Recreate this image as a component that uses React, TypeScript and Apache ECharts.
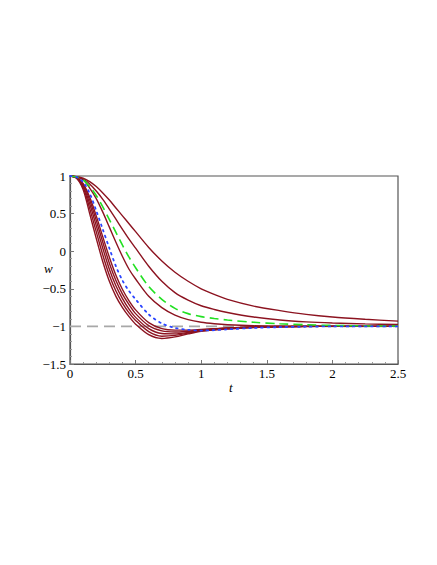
import React, { useEffect, useRef } from "react";
import * as echarts from "echarts";

const T = [0, 0.05, 0.1, 0.15, 0.2, 0.25, 0.3, 0.35, 0.4, 0.45, 0.5, 0.6, 0.7, 0.8, 0.9, 1.0, 1.1, 1.2, 1.4, 1.6, 1.8, 2.0, 2.25, 2.5];

const wA = [1, 0.99, 0.97, 0.925, 0.86, 0.775, 0.68, 0.575, 0.47, 0.365, 0.26, 0.05, -0.13, -0.28, -0.4, -0.5, -0.575, -0.64, -0.73, -0.79, -0.84, -0.875, -0.905, -0.93];
const wB = [1, 0.99, 0.96, 0.895, 0.8, 0.69, 0.56, 0.425, 0.29, 0.16, 0.04, -0.2, -0.4, -0.55, -0.65, -0.725, -0.775, -0.815, -0.875, -0.915, -0.94, -0.955, -0.967, -0.975];
const wC = [1, 0.986, 0.95, 0.84, 0.7, 0.52, 0.32, 0.12, -0.07, -0.24, -0.37, -0.6, -0.75, -0.85, -0.91, -0.945, -0.965, -0.978, -0.992, -0.998, -1, -1, -1, -1];
const wD = [1, 0.982, 0.9, 0.72, 0.47, 0.19, -0.08, -0.32, -0.51, -0.66, -0.78, -0.95, -1.03, -1.05, -1.05, -1.04, -1.03, -1.02, -1.006, -1.0, -1, -1, -1, -1];
const wE = [1, 0.98, 0.89, 0.68, 0.41, 0.12, -0.16, -0.39, -0.57, -0.71, -0.83, -0.99, -1.06, -1.075, -1.065, -1.05, -1.035, -1.022, -1.008, -1.002, -1, -1, -1, -1];
const wF = [1, 0.978, 0.87, 0.63, 0.34, 0.04, -0.24, -0.46, -0.63, -0.77, -0.88, -1.03, -1.095, -1.1, -1.08, -1.055, -1.038, -1.025, -1.01, -1.003, -1, -1, -1, -1];
const wG = [1, 0.975, 0.85, 0.57, 0.26, -0.05, -0.32, -0.53, -0.69, -0.82, -0.92, -1.07, -1.13, -1.12, -1.09, -1.06, -1.042, -1.03, -1.012, -1.004, -1, -1, -1, -1];
const wH = [1, 0.97, 0.82, 0.5, 0.17, -0.14, -0.4, -0.6, -0.75, -0.87, -0.97, -1.11, -1.16, -1.14, -1.1, -1.065, -1.047, -1.035, -1.015, -1.005, -1.001, -1, -1, -1];
const wGreen = [1, 0.987, 0.95, 0.86, 0.74, 0.59, 0.42, 0.25, 0.08, -0.08, -0.22, -0.47, -0.64, -0.76, -0.83, -0.87, -0.895, -0.915, -0.945, -0.965, -0.978, -0.987, -0.993, -0.996];
const wBlue = [1, 0.985, 0.92, 0.77, 0.54, 0.29, 0.04, -0.2, -0.39, -0.53, -0.64, -0.84, -0.96, -1.02, -1.045, -1.055, -1.05, -1.04, -1.02, -1.01, -1.004, -1.0, -1.0, -1.0];
const asymptoteT = [0, 2.5];
const asymptoteW = [-1, -1];

const xTickLabels = ["0", "0.5", "1", "1.5", "2", "2.5"];
const yTickLabels = ["\u22121.5", "\u22121", "\u22120.5", "0", "0.5", "1"];
const xName = "t";
const yName = "w";

const darkRed = "#8c1320";
const FONT = "'Liberation Serif', 'DejaVu Serif', 'Times New Roman', serif";

function pairs(t: number[], w: number[]) {
  return t.map((v, i) => [v, w[i]]);
}

export default function App() {
  const ref = useRef<HTMLDivElement>(null);
  useEffect(() => {
    if (!ref.current) return;
    const chart = echarts.init(ref.current, undefined, { renderer: "svg" });
    const redCurves = [wA, wB, wC, wD, wE, wF, wG, wH];
    const series: any[] = [
      {
        type: "line",
        data: pairs(asymptoteT, asymptoteW),
        showSymbol: false,
        lineStyle: { color: "#a8a8a8", width: 1.6, type: [11, 6] },
        silent: true,
      },
      ...redCurves.map((w) => ({
        type: "line",
        data: pairs(T, w),
        smooth: 0.3,
        showSymbol: false,
        lineStyle: { color: darkRed, width: 1.4 },
        silent: true,
      })),
      {
        type: "line",
        data: pairs(T, wGreen),
        smooth: 0.3,
        showSymbol: false,
        lineStyle: { color: "#22e022", width: 1.6, type: [9, 5] },
        silent: true,
      },
      {
        type: "line",
        data: pairs(T, wBlue),
        smooth: 0.3,
        showSymbol: false,
        lineStyle: { color: "#2a44ff", width: 1.8, type: [1.6, 4.5], cap: "round" },
        silent: true,
      },
    ];
    chart.setOption({
      animation: false,
      grid: {
        left: 70,
        right: 39,
        top: 176,
        bottom: 201,
        show: true,
        borderColor: "#555",
        borderWidth: 1.2,
        backgroundColor: "transparent",
      },
      graphic: [
        {
          type: "text",
          left: 44,
          top: 262,
          style: { text: yName, font: "italic 13px " + FONT, fill: "#000" },
        },
        {
          type: "text",
          left: 229,
          top: 381,
          style: { text: xName, font: "italic 13px " + FONT, fill: "#000" },
        },
      ],
      xAxis: {
        type: "value",
        min: 0,
        max: 2.5,
        interval: 0.5,
        axisLine: { show: true, onZero: false, lineStyle: { color: "#555", width: 1.2 } },
        axisTick: { show: true, inside: true, length: 4, lineStyle: { color: "#777" } },
        minorTick: { show: true, splitNumber: 5, length: 2, lineStyle: { color: "#999" } },
        splitLine: { show: false },
        axisLabel: {
          fontFamily: FONT,
          fontSize: 13,
          color: "#000",
          margin: 3,
          formatter: (v: number) => xTickLabels[Math.round(v / 0.5)] ?? "",
        },
      },
      yAxis: {
        type: "value",
        min: -1.5,
        max: 1,
        interval: 0.5,
        axisLine: { show: true, onZero: false, lineStyle: { color: "#555", width: 1.2 } },
        axisTick: { show: true, inside: true, length: 4, lineStyle: { color: "#777" } },
        minorTick: { show: true, splitNumber: 5, length: 2, lineStyle: { color: "#999" } },
        splitLine: { show: false },
        axisLabel: {
          fontFamily: FONT,
          fontSize: 13,
          color: "#000",
          margin: 4,
          formatter: (v: number) => yTickLabels[Math.round((v + 1.5) / 0.5)] ?? "",
        },
      },
      series,
    });
    return () => chart.dispose();
  }, []);
  return (
    <div
      ref={ref}
      style={{ position: "absolute", left: 0, top: 0, width: 437, height: 565, background: "#fff" }}
    />
  );
}
